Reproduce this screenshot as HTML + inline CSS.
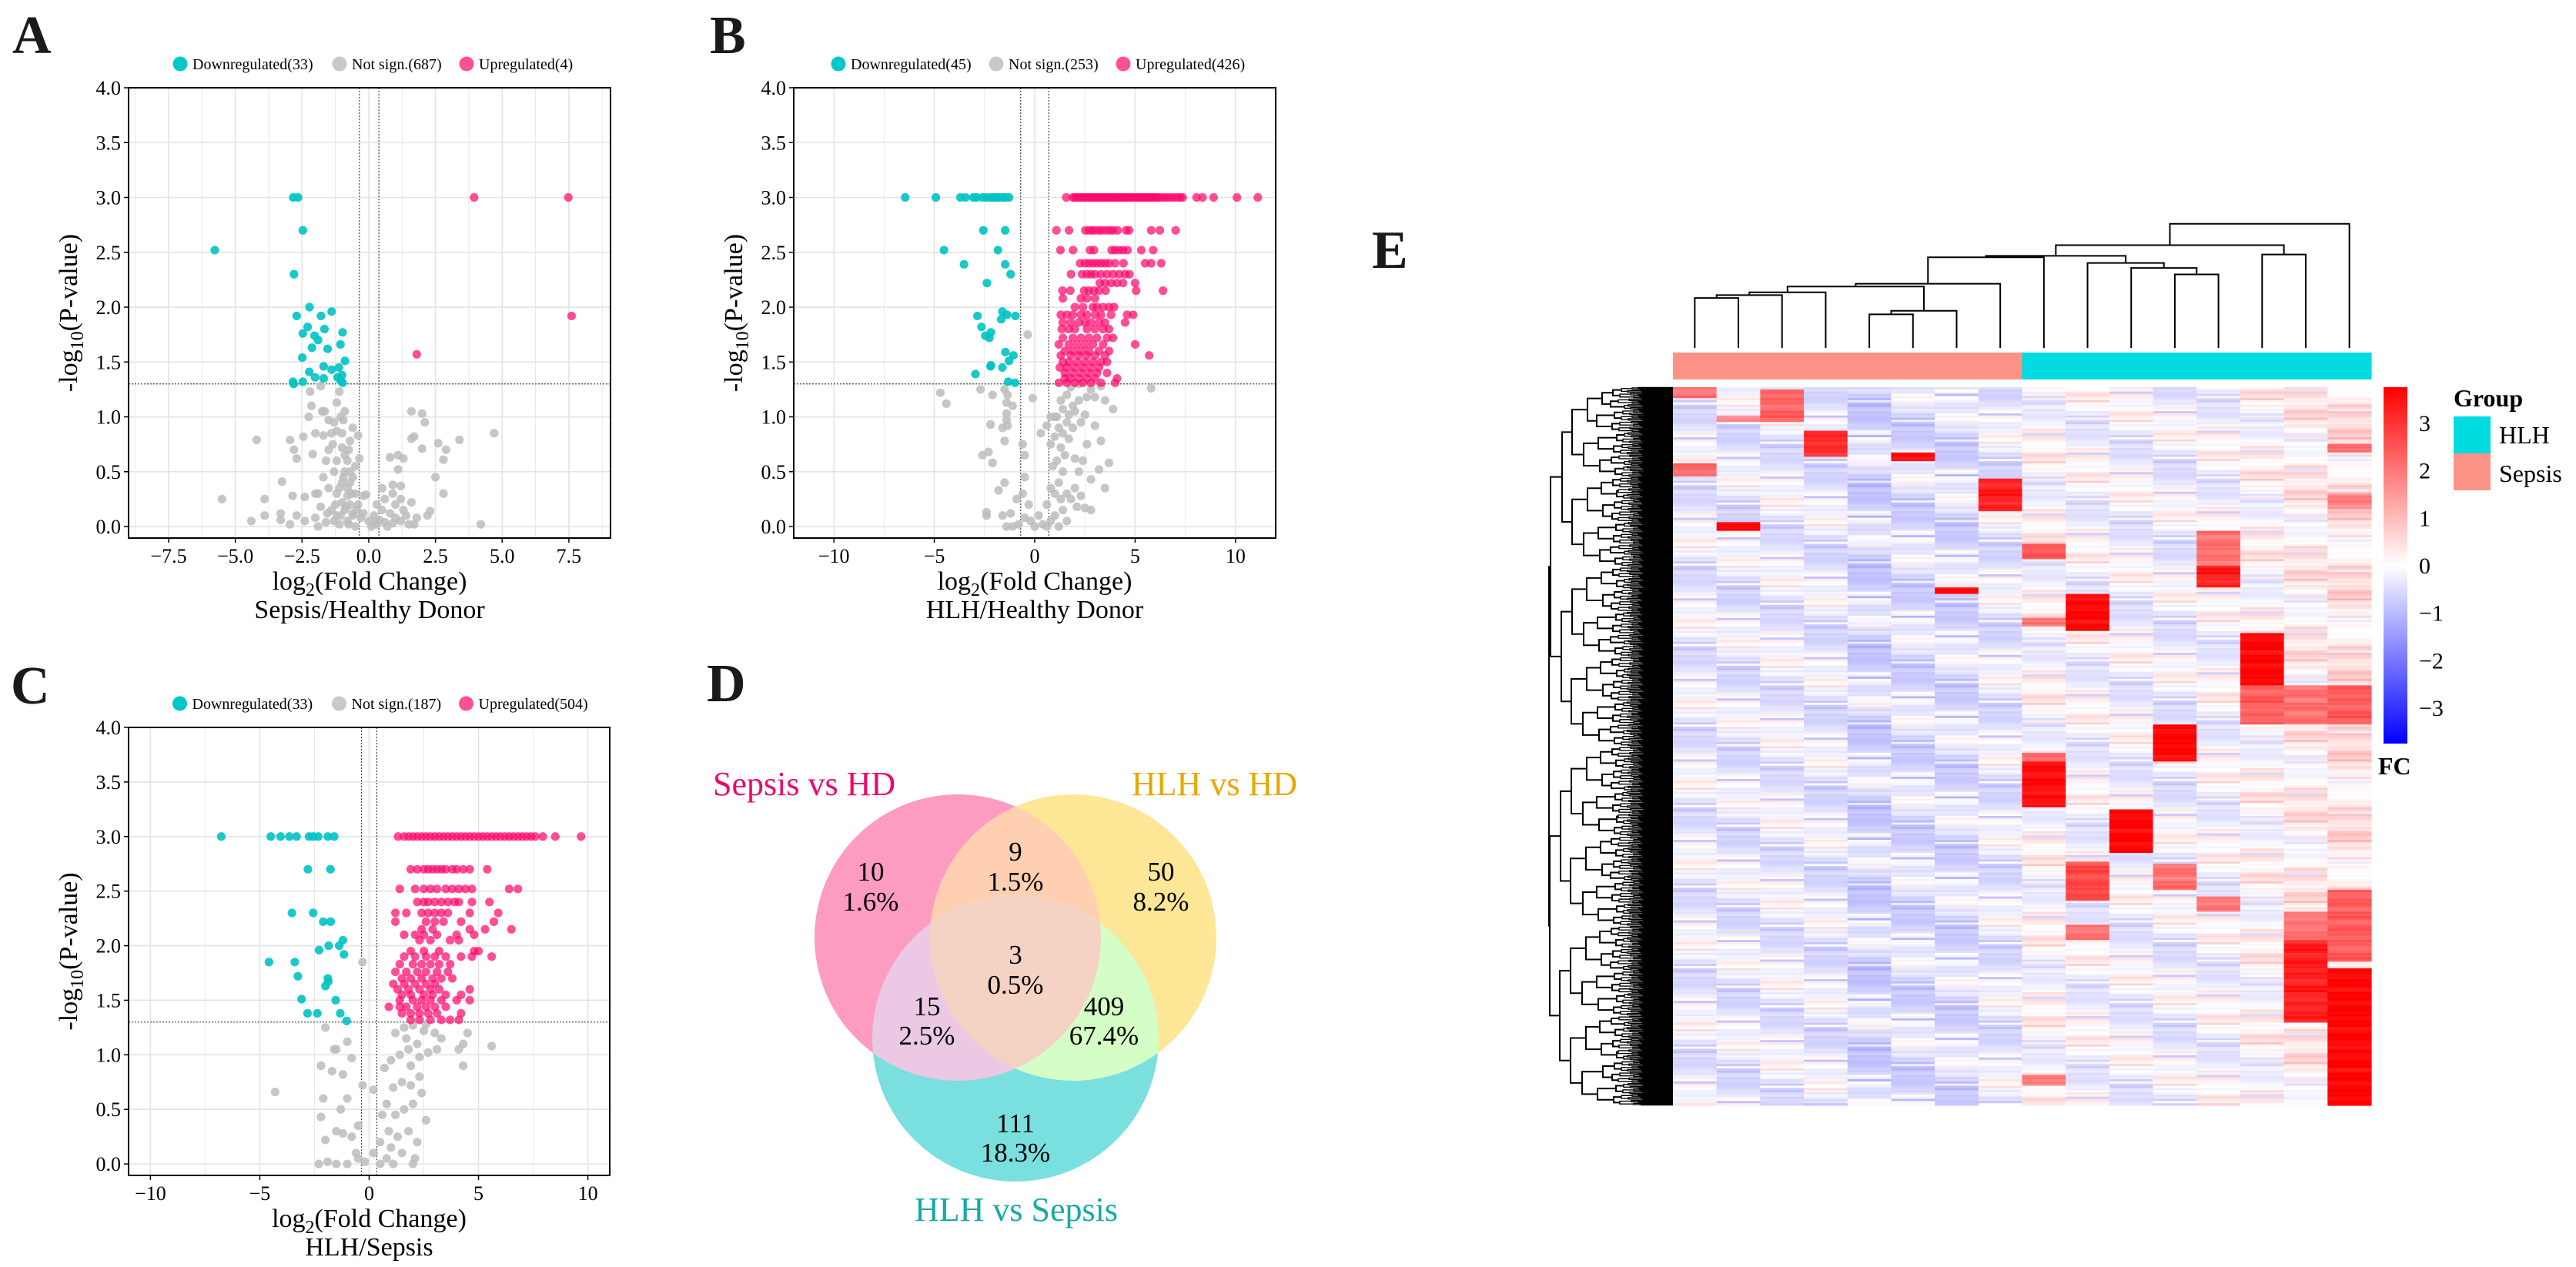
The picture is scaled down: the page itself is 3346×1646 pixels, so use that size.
<!DOCTYPE html>
<html><head><meta charset="utf-8"><style>
html,body{margin:0;padding:0;background:#fff}
svg{display:block;font-family:"Liberation Serif","DejaVu Serif",serif}
</style></head><body>
<svg id="fig" xmlns="http://www.w3.org/2000/svg" width="3346" height="1646" viewBox="0 0 3346 1646">
<rect width="3346" height="1646" fill="#fff"/>
<defs>
<linearGradient id="fcgrad" x1="0" y1="0" x2="0" y2="1">
<stop offset="0" stop-color="#ff0000"/><stop offset="0.5" stop-color="#ffffff"/><stop offset="1" stop-color="#0000ff"/>
</linearGradient>
<clipPath id="cpPink"><circle cx="1244" cy="1218" r="186"/></clipPath>
<clipPath id="cpYel"><circle cx="1394" cy="1218" r="186"/></clipPath>
<clipPath id="cpTeal"><circle cx="1319" cy="1349" r="186"/></clipPath>
</defs>
<g id="panelA"></g>
<g id="panelB"></g>
<g id="panelC"></g>
<g id="panelD">
 <circle cx="1244" cy="1218" r="186" fill="#fd9cc0"/>
 <circle cx="1394" cy="1218" r="186" fill="#fee697"/>
 <circle cx="1319" cy="1349" r="186" fill="#79e0df"/>
 <g clip-path="url(#cpPink)"><circle cx="1394" cy="1218" r="186" fill="#fecfb1"/></g>
 <g clip-path="url(#cpPink)"><circle cx="1319" cy="1349" r="186" fill="#ebc8e4"/></g>
 <g clip-path="url(#cpYel)"><circle cx="1319" cy="1349" r="186" fill="#d5fdc6"/></g>
 <g clip-path="url(#cpPink)"><g clip-path="url(#cpYel)"><circle cx="1319" cy="1349" r="186" fill="#f4d3c4"/></g></g>
 <g font-size="35" text-anchor="middle" fill="#000">
  <text x="1131" y="1144">10</text><text x="1131" y="1183">1.6%</text>
  <text x="1319" y="1118">9</text><text x="1319" y="1157">1.5%</text>
  <text x="1508" y="1144">50</text><text x="1508" y="1183">8.2%</text>
  <text x="1319" y="1252">3</text><text x="1319" y="1291">0.5%</text>
  <text x="1204" y="1319">15</text><text x="1204" y="1357">2.5%</text>
  <text x="1434" y="1319">409</text><text x="1434" y="1357">67.4%</text>
  <text x="1319" y="1471">111</text><text x="1319" y="1509">18.3%</text>
 </g>
 <text x="926" y="1033" font-size="44" fill="#ea0a6e">Sepsis vs HD</text>
 <text x="1685" y="1033" font-size="44" fill="#e8a700" text-anchor="end">HLH vs HD</text>
 <text x="1320" y="1586" font-size="44" fill="#16aaa6" text-anchor="middle">HLH vs Sepsis</text>
</g>
<g id="panelE"></g>
<g font-weight="bold" font-size="70" fill="#1a1a1a">
 <text x="16" y="69">A</text>
 <text x="922" y="69">B</text>
 <text x="14" y="914">C</text>
 <text x="918" y="911">D</text>
 <text x="1782" y="348">E</text>
</g>
</svg>
<script>
// ================= DATA =================
var yTicks = [0,0.5,1,1.5,2,2.5,3,3.5,4];
var yTickLabels = ["0.0","0.5","1.0","1.5","2.0","2.5","3.0","3.5","4.0"];
var aXTicks = [-7.5,-5,-2.5,0,2.5,5,7.5];
var aXTickLabels = ["\u22127.5","\u22125.0","\u22122.5","0.0","2.5","5.0","7.5"];
var bXTicks = [-10,-5,0,5,10];
var bXTickLabels = ["\u221210","\u22125","0","5","10"];
var cXTicks = [-10,-5,0,5,10];
var cXTickLabels = ["\u221210","\u22125","0","5","10"];
var aLegend = ["Downregulated(33)","Not sign.(687)","Upregulated(4)"];
var bLegend = ["Downregulated(45)","Not sign.(253)","Upregulated(426)"];
var cLegend = ["Downregulated(33)","Not sign.(187)","Upregulated(504)"];

var aDown = [[-2.83,3],[-2.65,3],[-2.47,2.7],[-5.77,2.52],[-2.8,2.3],[-2.22,2.0],[-2.7,1.92],[-1.79,1.92],[-1.39,1.96],[-2.29,1.82],[-2.47,1.76],[-1.66,1.8],[-2.03,1.74],[-1.9,1.7],[-0.98,1.77],[-2.13,1.63],[-1.54,1.62],[-1.06,1.66],[-2.49,1.54],[-0.89,1.51],[-2.23,1.41],[-1.69,1.46],[-1.39,1.43],[-1.12,1.45],[-1.0,1.38],[-2.01,1.36],[-1.69,1.35],[-1.17,1.36],[-2.84,1.32],[-2.81,1.3],[-2.47,1.32],[-0.98,1.31],[-1.05,1.33]];
var aUp = [[3.95,3.0],[7.48,3.0],[7.6,1.92],[1.8,1.57]];
var aNs = [[-2.2,1.23],[-1.8,1.28],[-1.1,1.23],[-2.15,1.1],[-1.75,1.05],[-1.65,1.05],[-1.2,1.13],[-1.05,1.0],[-2.25,1.0],[-1.5,0.97],[-1.3,0.95],[-0.95,0.97],[-4.2,0.79],[-2.95,0.79],[-2.45,0.82],[-2.0,0.85],[-1.7,0.83],[-1.4,0.85],[-1.2,0.87],[-0.4,0.83],[-0.7,0.78],[-2.8,0.7],[-2.7,0.62],[-2.1,0.66],[-1.5,0.7],[-1.0,0.72],[-0.8,0.6],[-1.6,0.6],[-3.25,0.41],[-1.7,0.45],[-1.3,0.5],[-0.9,0.5],[-0.6,0.45],[-5.5,0.25],[-3.9,0.25],[-2.85,0.28],[-2.4,0.27],[-2.0,0.3],[-1.5,0.35],[-1.2,0.3],[-0.8,0.35],[-0.5,0.3],[-0.2,0.28],[-4.4,0.05],[-3.9,0.1],[-3.3,0.12],[-3.3,0.06],[-2.95,0.02],[-2.7,0.1],[-2.4,0.05],[-2.0,0.08],[-1.6,0.04],[-1.2,0.1],[-0.9,0.15],[-0.6,0.12],[-0.3,0.08],[0.0,0.05],[0.3,0.02],[0.6,0.04],[0.9,0.03],[1.2,0.05],[1.5,0.02],[1.8,0.08],[2.2,0.1],[2.3,0.14],[4.2,0.02],[-0.7,0.2],[-1.0,0.22],[-0.4,0.2],[-0.8,0.05],[-0.5,0.0],[-1.4,0.15],[-1.8,0.18],[0.6,0.25],[0.9,0.3],[1.2,0.25],[1.0,0.2],[0.5,0.15],[0.8,0.12],[1.3,0.15],[1.6,0.22],[0.9,0.38],[1.2,0.37],[0.8,0.63],[1.1,0.65],[1.3,0.62],[1.1,0.52],[-0.1,0.29],[1.6,1.05],[2.0,1.03],[2.1,0.95],[1.7,0.82],[1.6,0.8],[2.0,0.71],[2.6,0.76],[2.9,0.7],[2.8,0.61],[3.4,0.79],[4.7,0.85],[2.5,0.45],[2.8,0.3],[-1.0,0.4],[-0.7,0.4],[-1.2,0.6],[-0.9,0.65],[-0.5,0.55],[-0.6,0.1],[-0.2,0.12],[0.2,0.1],[0.4,0.06],[-1.1,0.02],[-1.9,0.0],[0.1,0.0],[0.7,0.0],[1.0,0.08],[-0.35,0.62],[-0.8,0.28],[-1.3,0.05],[-0.6,0.9],[-0.9,1.05],[-1.0,0.85],[-0.75,0.7],[-1.35,0.75],[-0.7,0.5],[-0.95,0.45],[-1.1,0.35],[-0.65,0.3],[-0.85,0.18],[-1.05,0.1],[-0.75,0.02],[-0.45,0.15],[-1.25,0.2],[0.3,0.2],[0.5,0.35],[0.2,0.05],[1.4,0.1],[1.7,0.02],[-1.55,0.12],[-1.9,0.3]];

var bDown = [[-6.45,3],[-4.92,3],[-3.7,3],[-3.44,3],[-3.05,3],[-2.89,3],[-2.6,3],[-2.42,3],[-2.2,3],[-2.06,3],[-1.9,3],[-1.77,3],[-1.6,3],[-1.47,3],[-1.28,3],[-2.56,2.7],[-1.47,2.7],[-4.52,2.52],[-1.83,2.52],[-3.52,2.39],[-1.47,2.39],[-1.2,2.3],[-2.38,2.22],[-2.85,1.92],[-1.61,1.96],[-1.38,1.93],[-0.96,1.92],[-1.67,1.89],[-2.65,1.82],[-2.18,1.77],[-2.46,1.74],[-2.26,1.72],[-1.46,1.59],[-1.06,1.56],[-1.28,1.51],[-2.18,1.47],[-1.61,1.45],[-2.95,1.39],[-1.32,1.32],[-0.98,1.31],[-2.2,1.46]];
var bUpRows = [
 [3.0,[1.57,1.9,2.0,2.1,2.2,2.3,2.4,2.5,2.6,2.7,2.8,2.9,3.0,3.1,3.2,3.3,3.4,3.5,3.6,3.7,3.8,3.9,4.0,4.1,4.2,4.3,4.4,4.5,4.6,4.7,4.8,4.9,5.0,5.1,5.2,5.3,5.4,5.5,5.6,5.7,5.8,5.9,6.0,6.1,6.2,6.35,6.5,6.65,6.8,6.95,7.1,7.25,7.37,8.06,8.36,8.91,10.07,11.11]],
 [2.7,[1.08,1.71,2.52,2.7,2.85,3.0,3.2,3.35,3.55,3.75,3.9,4.13,4.55,4.7,5.8,6.23,7.02]],
 [2.52,[1.28,1.91,2.75,2.95,3.83,4.0,4.2,4.4,4.62,5.31,5.9]],
 [2.4,[2.26,2.5,2.7,2.9,3.1,3.3,3.5,3.7,4.0,4.42,5.5,5.8,6.3]],
 [2.3,[1.81,2.36,2.6,2.8,3.0,3.3,3.6,3.9,4.2,4.5,4.72]],
 [2.22,[3.24,3.5,3.8,4.1,4.4,5.0]],
 [2.15,[1.38,1.77,2.46,2.7,2.95,3.2,3.53,5.05,6.39]],
 [2.08,[1.4,2.3,2.6,3.0]],
 [2.0,[2.0,2.4,2.9,3.1,3.4,3.7,3.95]],
 [1.93,[1.3,1.6,1.9,2.3,2.6,3.0,3.3,3.8,4.6,4.9]],
 [1.86,[1.4,1.8,2.2,2.5,2.8,3.2,3.5,4.5]],
 [1.8,[1.35,1.7,2.0,2.6,3.0,3.4,3.7]],
 [1.72,[1.4,1.9,2.3,2.7,3.1,3.6,3.9]],
 [1.66,[1.2,1.7,2.1,2.5,2.9,3.4,5.0]],
 [1.6,[1.5,1.9,2.3,2.7,3.2,3.7]],
 [1.56,[1.3,1.8,2.2,2.6,3.0,3.5,5.7]],
 [1.5,[1.4,1.7,2.1,2.5,2.9,3.3,3.6]],
 [1.45,[1.25,1.6,2.0,2.4,2.8,3.2]],
 [1.4,[1.5,1.9,2.3,2.7,3.1,3.6]],
 [1.35,[1.5,1.8,2.2,2.6,3.0,4.1]],
 [1.31,[1.2,1.6,2.0,2.4,2.8,3.3,4.0]]
];
var bNs = [[-4.7,1.22],[-4.4,1.12],[-2.7,1.25],[-2.1,1.2],[-1.5,1.25],[-1.4,1.13],[-1.35,1.2],[-1.1,1.1],[-1.4,1.03],[-2.2,0.93],[-1.4,0.97],[-1.6,0.9],[-1.35,0.92],[-0.1,1.17],[-0.35,1.75],[-1.5,0.78],[-0.5,0.65],[-0.6,0.75],[-2.6,0.65],[-2.3,0.68],[-2.1,0.58],[-1.5,0.4],[-1.8,0.33],[-2.4,0.13],[-2.4,0.1],[-1.6,0.1],[-1.2,0.12],[-0.9,0.25],[-0.6,0.3],[-0.5,0.45],[-1.4,0.0],[-1.1,0.0],[-0.8,0.02],[-0.5,0.08],[-0.3,0.2],[-0.2,0.05],[0.0,0.0],[0.2,0.1],[0.4,0.02],[0.6,0.0],[0.8,0.05],[1.0,0.1],[1.2,0.0],[1.4,0.15],[1.6,0.05],[0.6,0.2],[0.8,0.35],[1.0,0.3],[1.2,0.4],[1.4,0.5],[1.6,0.3],[1.8,0.25],[2.0,0.35],[2.3,0.28],[2.5,0.17],[2.8,0.15],[3.5,0.35],[0.9,0.55],[1.1,0.6],[1.3,0.72],[1.5,0.65],[1.7,0.8],[2.0,0.62],[2.2,0.5],[2.6,0.75],[0.8,0.75],[1.0,0.82],[1.2,0.9],[1.4,0.85],[1.6,0.95],[1.9,0.9],[2.3,0.95],[3.3,0.78],[3.7,0.58],[3.2,0.52],[0.6,0.92],[1.1,1.0],[1.4,1.07],[1.7,1.02],[2.0,1.05],[2.5,1.02],[3.0,0.92],[1.3,1.15],[1.6,1.2],[1.9,1.1],[2.2,1.15],[2.6,1.18],[3.0,1.18],[3.5,1.15],[3.9,1.07],[1.8,1.27],[2.2,1.3],[2.8,1.25],[3.3,1.28],[5.8,1.26],[1.0,1.0],[2.4,0.6],[2.8,0.43],[1.3,0.25],[2.1,0.18],[0.3,0.85],[0.8,1.0]];

var cDown = [[-6.76,3],[-4.5,3],[-4.05,3],[-3.65,3],[-3.32,3],[-2.75,3],[-2.56,3],[-2.33,3],[-1.89,3],[-1.6,3],[-2.8,2.7],[-1.77,2.7],[-3.53,2.3],[-2.56,2.3],[-2.1,2.22],[-1.76,2.22],[-1.2,2.05],[-1.37,2.0],[-1.85,2.0],[-2.29,1.96],[-1.15,1.92],[-4.58,1.85],[-3.4,1.85],[-3.26,1.72],[-1.89,1.7],[-1.87,1.67],[-2.0,1.63],[-3.09,1.51],[-1.53,1.5],[-2.82,1.38],[-2.37,1.38],[-1.32,1.38],[-1.03,1.31]];
var cUpRows = [
 [3.0,[1.32,1.6,1.8,2.0,2.2,2.4,2.6,2.8,3.0,3.2,3.4,3.6,3.8,4.0,4.2,4.4,4.6,4.8,5.0,5.2,5.4,5.6,5.8,6.0,6.2,6.4,6.6,6.8,7.0,7.2,7.4,7.6,7.94,8.51,9.69]],
 [2.7,[1.9,2.2,2.5,2.7,2.9,3.1,3.3,3.5,3.8,4.0,4.3,4.6,5.4]],
 [2.52,[1.4,2.1,2.5,2.8,3.1,3.5,3.8,4.1,4.4,4.7,6.4,6.8]],
 [2.4,[2.2,2.5,2.7,3.0,3.3,3.6,3.9,4.1,4.7,5.5]],
 [2.3,[1.2,1.7,2.4,2.7,3.0,3.3,3.6,4.6,5.9]],
 [2.22,[1.2,2.6,3.0,3.4,4.2,5.7]],
 [2.15,[2.4,2.9,4.6,5.3,6.5]],
 [2.1,[1.6,2.1,2.5,3.1,4.0,4.8]],
 [2.05,[2.3,2.8,3.7,4.1]],
 [1.95,[1.9,2.5,3.2,4.8,5.0]],
 [1.9,[1.6,2.1,2.6,3.0,3.5,4.2,4.7,5.6]],
 [1.83,[1.4,2.0,2.4,2.8,3.2,3.7]],
 [1.76,[1.2,1.7,2.2,2.6,3.1,3.6]],
 [1.7,[1.5,1.9,2.4,2.9,3.3,3.8]],
 [1.65,[1.1,1.6,2.1,2.6,3.0]],
 [1.6,[1.3,1.8,2.3,2.8,3.2,4.6]],
 [1.55,[1.5,1.9,2.5,2.9,3.5,4.2]],
 [1.5,[1.4,2.0,2.4,2.8,3.3,4.0,4.6]],
 [1.44,[0.9,1.4,1.7,2.2,2.6,3.0,3.5]],
 [1.38,[1.5,1.9,2.3,2.7,3.1,4.2]],
 [1.32,[1.9,2.3,2.8,3.3,3.7,4.1]]
];
var cNs = [[-2.0,1.25],[-1.0,1.12],[-1.5,1.05],[-1.6,1.05],[-0.8,0.97],[-2.2,0.9],[-1.7,0.85],[-1.2,0.82],[-4.3,0.66],[-2.1,0.6],[-1.3,0.5],[-1.0,0.6],[-2.2,0.43],[-1.5,0.3],[-2.0,0.22],[-1.2,0.28],[-0.8,0.25],[-0.5,0.35],[-0.3,0.72],[0.2,0.68],[-0.6,0.1],[-2.3,0.0],[-1.9,0.02],[-1.5,0.0],[-1.0,0.0],[-0.5,0.05],[-0.2,0.02],[0.2,0.1],[0.5,0.0],[0.8,0.05],[1.1,0.0],[1.5,0.1],[2.1,0.05],[0.5,0.2],[0.9,0.3],[1.3,0.25],[1.8,0.3],[2.2,0.2],[1.2,0.45],[1.6,0.5],[2.0,0.55],[0.8,0.55],[1.1,0.7],[1.5,0.75],[1.9,0.72],[2.3,0.8],[0.7,0.88],[1.0,0.95],[1.4,1.0],[1.8,1.05],[2.2,1.1],[2.7,1.02],[3.1,1.05],[3.3,1.15],[4.3,1.1],[4.1,1.05],[4.3,0.9],[5.6,1.08],[1.2,1.2],[1.6,1.25],[2.0,1.27],[2.5,1.22],[3.0,1.2],[4.5,1.2],[-0.3,1.85],[1.9,0.9],[2.4,0.65],[2.6,0.4],[0.6,0.45],[1.0,0.15],[2.0,0.0],[2.3,0.98],[1.7,1.15],[2.6,1.28]];

// Heatmap data
var hmGroups = ["Sepsis","Sepsis","Sepsis","Sepsis","Sepsis","Sepsis","Sepsis","Sepsis","HLH","HLH","HLH","HLH","HLH","HLH","HLH","HLH"];
var hmColMeans = [-0.3,-0.35,-0.3,-0.35,-0.6,-0.5,-0.5,-0.35,-0.05,-0.15,-0.2,-0.25,-0.15,0.0,0.15,0.3];
var hmTexture = [0.3,-0.5,0.9,-0.2,0.1,-0.8,0.6,0.0,-0.3,1.2,-0.6,0.2,0.5,-0.9,0.4,-0.1,0.8,-0.4,0.0,-0.7,1.0,0.2,-0.2,0.6,-0.5,0.3,-1.0,0.7,-0.3,0.1,1.4,-0.6,0.2,-0.35,0.55,-0.15,0.9];
// [column, start %, end %, value]
var hmBlocks = [[0,0,1.5,2],[0,10.5,12.3,2.2],[1,18.8,20,3.5],[1,4,5,1.5],[2,0.3,4.8,2.2],[3,6.2,9.7,3],[5,9.2,10.4,3.5],[6,27.8,28.8,3.5],[7,12.7,17.2,3.2],
 [8,21.7,24,2.5],[8,52,58.5,3.5],[8,51,52,2],[8,95.7,97.2,1.8],[8,32,33.3,1.8],[9,28.9,33.9,3.6],[9,66,71.5,2.6],[9,75,77,2],[10,58.7,65,3.6],[11,47,52,3.6],[11,66.5,70,2],
 [12,20,25,2],[12,24.9,27.8,3.2],[12,71,73,2],[13,34.3,41.5,3.6],[13,41.5,47,2.3],[14,41.5,47,2],[14,73,77,2],[14,77,88.5,3.2],[15,41.5,47,2.3],[15,70,80,2.3],[15,81,100,3.6],[15,8,9,2],[15,15,17,1.8]];
var fcTicks = [3,2,1,0,-1,-2,-3];
var fcTickLabels = ["3","2","1","0","\u22121","\u22122","\u22123"];
// column dendrogram merges: [left, right, height] (leaves 0..15, new nodes 16..)
var colMerges = [[0,1,70],[16,2,74],[17,3,78],[4,5,47],[19,6,52],[18,20,86],[21,7,90],[22,8,127],[11,12,103],[10,24,112],[9,25,119],[23,26,129],[13,14,131],[27,28,144],[29,15,174]];

// ================= DRAWING =================
var NS = "http://www.w3.org/2000/svg";
function mk(tag, attrs, parent){var e=document.createElementNS(NS,tag);for(var k in attrs)e.setAttribute(k,attrs[k]);if(parent)parent.appendChild(e);return e;}
function expandRows(rows){var out=[];rows.forEach(function(r){r[1].forEach(function(x){out.push([x,r[0]]);});});return out;}

function volcano(gid, box, xlim, xt, xtl, down, ns, up, legend, subtitle, vlines){
  var g=document.getElementById(gid);
  var L=box[0],T=box[1],R=box[2],B=box[3];
  var ylim=[-0.105,4.0];
  function sx(v){return L+(v-xlim[0])/(xlim[1]-xlim[0])*(R-L);}
  function sy(v){return B-(v-ylim[0])/(ylim[1]-ylim[0])*(B-T);}
  var half=(xt[1]-xt[0])/2;
  for(var v=xt[0]-half; v<=xlim[1]; v+=half){ if(v<xlim[0])continue;
    var gl=mk("line",{x1:sx(v),x2:sx(v),y1:T,y2:B,stroke:"#e3e3e3","stroke-width":(Math.abs((v-xt[0])/half)%2<0.01)?1.6:0.8},g);
    
    
  }
  yTicks.forEach(function(t){
    var gl=mk("line",{x1:L,x2:R,y1:sy(t),y2:sy(t),stroke:"#e3e3e3","stroke-width":1.6},g);
    
    
  });
  vlines.forEach(function(v){
    var l=mk("line",{x1:sx(v),x2:sx(v),y1:T,y2:B,stroke:"#444","stroke-width":1.2,"stroke-dasharray":"2,2"},g);
    
    
  });
  var hl=mk("line",{x1:L,x2:R,y1:sy(1.3),y2:sy(1.3),stroke:"#444","stroke-width":1.2,"stroke-dasharray":"2,2"},g);
  
  
  function pts(arr,col,op,name){arr.forEach(function(p){
    var c=mk("circle",{cx:sx(p[0]),cy:sy(p[1]),r:5.6,fill:col,"fill-opacity":op},g);
    
    
  });}
  pts(ns,"#bcbcbc",0.85,"point-not-significant");
  pts(down,"#00c3c3",0.9,"point-downregulated");
  pts(up,"#ff0a6e",0.72,"point-upregulated");
  var fr=mk("rect",{x:L,y:T,width:R-L,height:B-T,fill:"none",stroke:"#000","stroke-width":2},g);
  
  
  yTicks.forEach(function(t,i){
    var tk=mk("line",{x1:L-6,x2:L,y1:sy(t),y2:sy(t),stroke:"#000","stroke-width":1.5},g);
    
    
    var tx=mk("text",{x:L-10,y:sy(t)+9,"font-size":26,"text-anchor":"end"},g);
    tx.textContent=yTickLabels[i];
    
    
  });
  xt.forEach(function(t,i){
    var tk=mk("line",{x1:sx(t),x2:sx(t),y1:B,y2:B+6,stroke:"#000","stroke-width":1.5},g);
    
    
    var tx=mk("text",{x:sx(t),y:B+32,"font-size":26,"text-anchor":"middle"},g);
    tx.textContent=xtl[i];
    
    
  });
  var cx=(L+R)/2;
  var xtit=mk("text",{x:cx,y:B+67,"font-size":34,"text-anchor":"middle"},g);
  xtit.innerHTML='log<tspan font-size="24" dy="8">2</tspan><tspan dy="-8">(Fold Change)</tspan>';
  
  
  var sub=mk("text",{x:cx,y:B+104,"font-size":34,"text-anchor":"middle"},g);
  sub.textContent=subtitle;
  
  
  var ycx=L-67, ycy=(T+B)/2;
  var ytit=mk("text",{x:ycx,y:ycy,"font-size":34,"text-anchor":"middle",transform:"rotate(-90 "+ycx+" "+ycy+")"},g);
  ytit.innerHTML='-log<tspan font-size="24" dy="8">10</tspan><tspan dy="-8">(P-value)</tspan>';
  
  
  var cols=["#00c8c8","#c9c9c9","#ff4f96"];
  var lx=[cx-246,cx-39,cx+126];
  if(gid==="panelB"){lx=[cx-255,cx-50,cx+115];}
  var ly=T-31;
  legend.forEach(function(s,i){
    var d=mk("circle",{cx:lx[i],cy:ly,r:9.5,fill:cols[i]},g);
    
    
    var t=mk("text",{x:lx[i]+16,y:ly+7,"font-size":20},g);
    t.textContent=s;
    
    
  });
}

volcano("panelA",[167,114,793,699],[-9.0,9.06],aXTicks,aXTickLabels,aDown,aNs,aUp,aLegend,"Sepsis/Healthy Donor",[-0.35,0.38]);
volcano("panelB",[1031,114,1657,699],[-12.0,12.0],bXTicks,bXTickLabels,bDown,bNs,expandRows(bUpRows),bLegend,"HLH/Healthy Donor",[-0.7,0.7]);
volcano("panelC",[167,945,792,1527],[-11.0,11.0],cXTicks,cXTickLabels,cDown,cNs,expandRows(cUpRows),cLegend,"HLH/Sepsis",[-0.35,0.35]);

// ---------- Heatmap ----------
(function(){
  var g=document.getElementById("panelE");
  var HL=2173,HR=3080,HT=503,HB=1436;
  var nCol=hmGroups.length, nRow=330;
  var cw=(HR-HL)/nCol, rh=(HB-HT)/nRow;
  function color(v){
    var m=3.7; v=Math.max(-m,Math.min(m,v)); var f=Math.abs(v)/m;
    var c=Math.round(255*(1-f));
    return v>=0?"rgb(255,"+c+","+c+")":"rgb("+c+","+c+",255)";
  }
  for(var c=0;c<nCol;c++){
    for(var r=0;r<nRow;r++){
      var pct=(r+0.5)/nRow*100;
      var v=hmColMeans[c]+0.6*hmTexture[(r*7+c*11)%hmTexture.length];
      hmBlocks.forEach(function(b){ if(b[0]===c && pct>=b[1] && pct<b[2]) v=b[3]+0.3*hmTexture[(r*5+c)%hmTexture.length]; });
      var cell=mk("rect",{x:HL+c*cw,y:HT+r*rh,width:cw+0.6,height:rh+0.6,fill:color(v)},g);
      
      
    }
  }
  for(var c2=0;c2<nCol;c2++){
    var a=mk("rect",{x:HL+c2*cw,y:458,width:cw+0.6,height:35,fill:hmGroups[c2]==="HLH"?"#00dbe0":"#fd9386"},g);
    
    
  }
  var nodeX=[],nodeH=[];
  for(var i=0;i<nCol;i++){nodeX.push(HL+cw*(i+0.5));nodeH.push(0);}
  function hy(h){return 452-h*0.927;}
  colMerges.forEach(function(m){
    var x1=nodeX[m[0]],x2=nodeX[m[1]],y=hy(m[2]);
    var p=mk("path",{d:"M"+x1+","+hy(nodeH[m[0]])+"V"+y+"H"+x2+"V"+hy(nodeH[m[1]]),fill:"none",stroke:"#000","stroke-width":2},g);
    
    
    nodeX.push((x1+x2)/2);nodeH.push(m[2]);
  });
  // row dendrogram
  var depthX=[2009,2016,2026,2040,2058,2078,2096,2106,2118,2132,2150];
  function rowTree(y0,y1,d){
    var ym=(y0+y1)/2;
    if(d>=depthX.length-1){return {y:ym,x:2173};}
    var a=rowTree(y0,ym,d+1), b=rowTree(ym,y1,d+1);
    var x=depthX[d]+((d*13+Math.round(ym))%9)-4;
    var p=mk("path",{d:"M"+a.x+","+a.y+"H"+x+"V"+b.y+"H"+b.x,fill:"none",stroke:"#000","stroke-width":d>6?1.4:2},g);
    
    
    return {y:(a.y+b.y)/2,x:x};
  }
  rowTree(HT,HB,0);
  var cb=mk("rect",{x:3096,y:503,width:31,height:463,fill:"url(#fcgrad)"},g);
  
  
  fcTicks.forEach(function(t,i){
    var tx=mk("text",{x:3142,y:735-t*61.7+10,"font-size":30},g);
    tx.textContent=fcTickLabels[i];
    
    
  });
  var fc=mk("text",{x:3089,y:1006,"font-size":32,"font-weight":"bold"},g);
  fc.textContent="FC";
  
  
  var gt=mk("text",{x:3187,y:528,"font-size":32,"font-weight":"bold"},g);
  gt.textContent="Group";
  
  
  var b1=mk("rect",{x:3187,y:541,width:48,height:48,fill:"#00dbe0"},g);
  
  
  var b2=mk("rect",{x:3187,y:589,width:48,height:48,fill:"#fd9386"},g);
  
  
  var t1=mk("text",{x:3246,y:576,"font-size":32},g);
  t1.textContent="HLH";
  
  
  var t2=mk("text",{x:3246,y:626,"font-size":32},g);
  t2.textContent="Sepsis";
  
  
})();
</script>
</body></html>
